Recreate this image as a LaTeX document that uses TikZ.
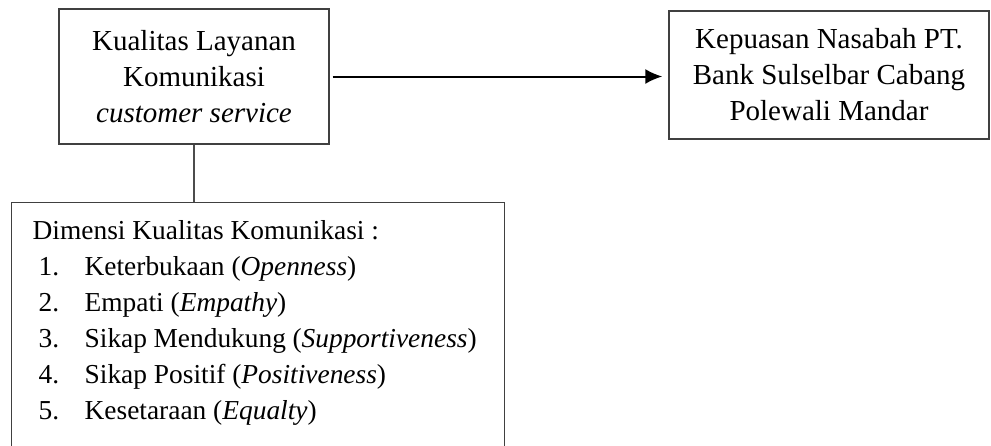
\documentclass[tikz,border=0pt]{standalone}
\usepackage{fontspec}
\setmainfont{Liberation Serif}
\usetikzlibrary{arrows.meta,positioning}
\tikzstyle{block} = [rectangle, draw=black!75, line width=0.7pt, inner sep=0pt,
  align=center, font=\fontsize{14.5}{18}\selectfont]
\tikzstyle{line} = [draw, black!70, line width=0.8pt]
\tikzstyle{line arrow} = [draw, black, line width=1pt, shorten <=1.5pt, shorten >=3pt,
  -{Latex[length=8.5pt,width=7.5pt]}]
\newcommand{\butir}[1]{\hspace*{3pt}\makebox[23pt][l]{#1}}

\begin{document}
\begin{tikzpicture}[x=0.5pt,y=-0.5pt]
  \useasboundingbox (0,0) rectangle (991,445);

  % variabel X
  \node [block, minimum width=135pt, minimum height=67.5pt] (kualitas) at (194,76.5) {
    Kualitas Layanan\\Komunikasi\\\textit{customer service}
  };

  % variabel Y
  \node [block, minimum width=160pt, minimum height=64pt] (kepuasan) at (829,75) {
    Kepuasan Nasabah PT.\\Bank Sulselbar Cabang\\Polewali Mandar
  };

  % dimensi
  \node [block, anchor=north west, align=left, inner xsep=10.5pt, inner ysep=6pt,
    font=\fontsize{13.7}{18}\selectfont] (dimensi) at (11,202) {
    \parbox[t][120pt][t]{222pt}{\raggedright\strut Dimensi Kualitas Komunikasi :\\
      \butir{1.}Keterbukaan (\textit{Openness})\\
      \butir{2.}Empati (\textit{Empathy})\\
      \butir{3.}Sikap Mendukung (\textit{Supportiveness})\\
      \butir{4.}Sikap Positif (\textit{Positiveness})\\
      \butir{5.}Kesetaraan (\textit{Equalty})}
  };

  \draw [line] (kualitas.south) -- (kualitas.south |- dimensi.north);
  \draw [line arrow] (kualitas.east) -- (kualitas.east -| kepuasan.west);

\end{tikzpicture}
\end{document}
